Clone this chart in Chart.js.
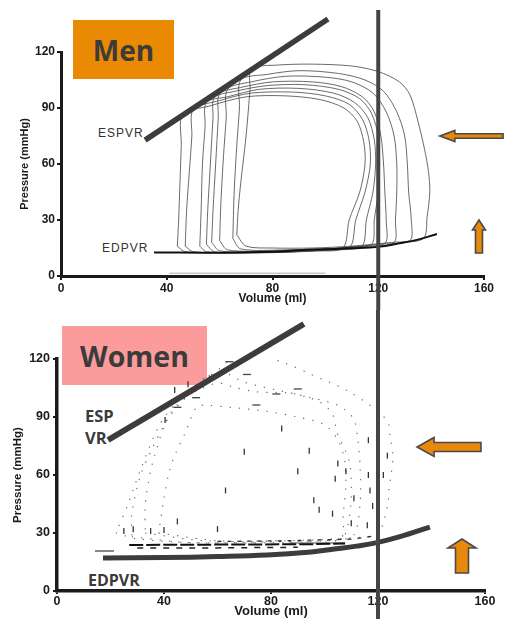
<!DOCTYPE html>
<html><head><meta charset="utf-8">
<script src="https://cdn.jsdelivr.net/npm/chart.js@4.4.1/dist/chart.umd.min.js"></script>
<style>
html,body{margin:0;padding:0;background:#fff;}
#wrap{position:relative;width:506px;height:619px;overflow:hidden;background:#fff;}
.cv{position:absolute;left:0;z-index:2;display:block;}
.lbl{position:absolute;white-space:nowrap;line-height:1;z-index:1;}
.box{position:absolute;z-index:1;display:flex;align-items:center;justify-content:center;font-family:'Open Sans',sans-serif;font-weight:700;color:#3b3b3b;}
</style></head><body>
<div id="wrap">
  <div class="box" style="left:73px;top:20px;width:101px;height:59px;background:#E98A02;font-size:28px;">Men</div>
  <div class="box" style="left:62px;top:326px;width:145px;height:59px;background:#FC9B9B;font-size:28.5px;">Women</div>
  <div class="lbl" style="left:98px;top:127px;font-family:'Liberation Sans',Arial,sans-serif;font-size:12px;letter-spacing:1px;color:#333;">ESPVR</div>
  <div class="lbl" style="left:102px;top:242px;font-family:'Liberation Sans',Arial,sans-serif;font-size:12px;letter-spacing:1px;color:#333;">EDPVR</div>
  <div class="lbl" style="left:85px;top:408px;font-family:'Open Sans',sans-serif;font-weight:700;font-size:16.5px;color:#3b3b3b;">ESP</div>
  <div class="lbl" style="left:85px;top:430px;font-family:'Open Sans',sans-serif;font-weight:700;font-size:16.5px;color:#3b3b3b;">VR</div>
  <div class="lbl" style="left:88px;top:572px;font-family:'Open Sans',sans-serif;font-weight:700;font-size:16px;color:#3b3b3b;">EDPVR</div>
  <canvas id="c1" class="cv" style="top:0" width="506" height="310"></canvas>
  <canvas id="c2" class="cv" style="top:310px" width="506" height="309"></canvas>
</div>
<script>
// ---------- data ----------
const xTicks = [0, 40, 80, 120, 160];
const yTicks = [0, 30, 60, 90, 120];
const refVolume = 120;

// Men: pressure-volume loops [volume ml, pressure mmHg]
const menLoop1 = [[66.5,22],[70,16],[80,15],[95,15],[110,16],[125,18],[137,20],[138.5,32],[139.5,45],[139,56],[137.5,68],[135,83],[132,97],[128,104],[120,109.5],[110,112.5],[95,113.5],[82,113],[72,111],[71.5,100],[70,75],[68,50],[67,35],[66.5,22]];
const menLoop2 = [[65,20],[68,14.5],[85,14],[105,15],[120,17],[132,19],[132.5,30],[131.5,45],[131,60],[130,75],[127,88],[122,99],[115,105],[105,108.5],[90,110],[78,108],[68,105],[67.5,90],[66.5,70],[65.5,45],[65,20]];
const menLoop3 = [[60,19],[63,14],[80,13.5],[100,14.5],[115,16],[126,18],[126.5,30],[127,45],[127,60],[126,75],[123,88],[118,98],[110,104],[100,106.5],[85,107],[72,104],[63,100],[62.5,85],[61.5,65],[60.5,40],[60,19]];
const menLoop4 = [[57,18],[60,13.5],[75,13],[95,14],[110,15.5],[122.5,17.5],[123,30],[122.5,45],[122,60],[121,75],[118.5,88],[114,96],[106,101.5],[95,104],[80,104],[68,101],[60,97.5],[59.5,85],[58.5,60],[57.5,35],[57,18]];
const menLoop5 = [[55,17],[58,13],[75,12.5],[95,13.5],[108,15],[117.5,17],[118.5,30],[120,45],[120.5,60],[120,75],[117.5,87],[113,95],[105,100],[92,102.5],[78,102],[66,99],[58,95.5],[57.5,85],[56.5,60],[55.5,35],[55,17]];
const menLoop6 = [[52.5,16],[55,13],[70,12.5],[90,13],[103,14],[113.8,16],[115.5,30],[118,45],[119,60],[118.5,73],[116,85],[111,93],[103,98],[90,100.5],[75,100],[63,96],[55,93],[54.5,80],[53.5,60],[53,35],[52.5,16]];
const menLoop7 = [[47,16],[50,13],[65,12.5],[85,13],[100,14],[109.3,15.5],[111.5,30],[115,45],[117,60],[116.5,73],[114,84],[109,92],[100,96.5],[88,98.5],[72,98],[60,94],[50,89],[49.5,75],[48.5,55],[47.5,35],[47,16]];
const menLoop8 = [[44,16],[47,13],[60,12.5],[80,12.5],[95,13.5],[106.6,15],[109,30],[113,45],[115,60],[114.5,72],[112,83],[107,90],[98,94.5],[85,96.5],[70,96],[56,91],[46,86.5],[45.5,70],[45,50],[44.5,30],[44,16]];
const menLoops = [menLoop1, menLoop2, menLoop3, menLoop4, menLoop5, menLoop6, menLoop7, menLoop8];
const menESPVR = [[31.8,72.8],[101,137.7]];
const menEDPVR = [[35.2,12.6],[60,12.5],[80,13],[90,13.8],[100,14.3],[110,14.8],[120,15.6],[128,17.5],[135,19.5],[142.2,22.5]];
const menBaseline = [[41,1.5],[100,1.5]];
const menRefLine = [[refVolume,142.5],[refVolume,-19]];

// Women: dotted pressure-volume loops
const womenLoop1 = [[22,30],[30,27],[50,25],[80,25],[100,26],[107,28],[109.5,40],[110,55],[109.5,66],[107.7,73],[105,80.7],[102.8,92],[98.3,97.8],[94.6,99.8],[87,102.4],[74.8,103],[65.8,105.5],[60.2,107.6],[53,104],[45,98],[38,85],[31,62],[26.7,45.5],[22,30]];
const womenLoop2 = [[28,28],[50,25],[80,25.5],[105,26.5],[111,29],[113.3,45],[113.3,64],[112.5,78],[110.7,89.5],[105,96],[95,100],[82,104],[70,108],[62,113],[55,110],[48,100],[41,88],[35,72],[31,59],[28,40],[28,28]];
const womenLoop3 = [[33,30],[55,26],[85,26],[110,27.5],[120,30],[123.7,45],[124,52],[125,61],[125.6,70],[124.5,80],[123.7,87.4],[118,95],[108,104],[95,112],[85,118],[75,122],[68,123],[60,114],[52,104],[44,95],[40,85],[36.5,70],[34.8,61],[33,45],[33,30]];
const womenLoop4 = [[38,30],[60,26],[90,25.5],[106,27],[107,40],[108,55],[107.5,68],[105,78],[100,86],[90,90],[78,93],[65,95],[56,96],[52.3,95.4],[48,82],[44,70],[42,62],[40,48],[38,30]];
const womenLoops = [womenLoop1, womenLoop2, womenLoop3, womenLoop4];
const womenFillLineA = [[27,23.8],[60,24],[94.6,24.2],[107.7,24.6]];
const womenFillLineB = [[30,22.2],[60,22.3],[90,22.6]];
const womenFillLineC = [[60,25.6],[85,26],[110,26.8],[119,28.5]];
const womenGrayA = [[14.2,20.7],[21.3,20.7]];
const womenGrayB = [[87,24.8],[107.7,24.8]];
const womenVMarks = [[94.3,72.5],[116.4,78],[40.4,88.5],[116.4,60],[108,62],[111,48],[104,58],[117,52],[118,44],[103,40],[110,35],[116,34],[25,31],[28.5,32],[35,31],[40,31.5],[45,36],[98,42],[60,32],[63,52],[70,72],[44,104],[49,107],[57,110],[105,66],[122,60],[123.5,70],[90,62],[96,47],[84,84]];
const womenHMarks = [[74.5,96.2],[64.5,118.6],[82,101.9],[71,112],[90,104.5],[52,100],[45,95]];
const womenESPVR = [[19.1,78.1],[92.3,138.1]];
const womenEDPVR = [[17.2,17.1],[40,17.3],[60,17.8],[78.5,18.6],[95,20.2],[103,21.6],[112,23.2],[119.6,25],[128.2,28.1],[139.4,33.1]];
const womenRefLine = [[refVolume,146],[refVolume,-15]];

// ---------- helpers ----------
const pts = a => a.map(p => ({x: p[0], y: p[1]}));
function lineDs(arr, o) {
  return Object.assign({data: pts(arr), showLine: true, pointRadius: 0, borderColor: '#333',
    borderWidth: 1, tension: 0, fill: false}, o);
}

const arrowPlugin = {
  id: 'arrows',
  afterDatasetsDraw(chart, args, opts) {
    const ctx = chart.ctx, xs = chart.scales.x, ys = chart.scales.y;
    (opts.list || []).forEach(a => {
      const tx = xs.getPixelForValue(a.tip[0]), ty = ys.getPixelForValue(a.tip[1]);
      const ex = xs.getPixelForValue(a.tail[0]), ey = ys.getPixelForValue(a.tail[1]);
      const dx = ex - tx, dy = ey - ty, len = Math.hypot(dx, dy);
      const ux = dx / len, uy = dy / len, nx = -uy, ny = ux;
      const hl = a.head, hw = a.headW / 2, sw = a.shaftW / 2;
      const bx = tx + ux * hl, by = ty + uy * hl;
      ctx.save();
      ctx.beginPath();
      ctx.moveTo(tx, ty);
      ctx.lineTo(bx + nx * hw, by + ny * hw);
      ctx.lineTo(bx + nx * sw, by + ny * sw);
      ctx.lineTo(ex + nx * sw, ey + ny * sw);
      ctx.lineTo(ex - nx * sw, ey - ny * sw);
      ctx.lineTo(bx - nx * sw, by - ny * sw);
      ctx.lineTo(bx - nx * hw, by - ny * hw);
      ctx.closePath();
      ctx.fillStyle = '#E8890C';
      ctx.fill();
      ctx.lineWidth = 1.6;
      ctx.strokeStyle = '#4a4a4a';
      ctx.lineJoin = 'miter';
      ctx.stroke();
      ctx.restore();
    });
  }
};

function makeOptions(p) {
  const axisColor = '#1a1a1a';
  return {
    responsive: false, animation: false, devicePixelRatio: 1, events: [],
    layout: {padding: {top: p.top, right: p.right, left: 0, bottom: 0}},
    plugins: {legend: {display: false}, tooltip: {enabled: false}, arrows: {list: p.arrows}},
    scales: {
      x: {
        type: 'linear', min: 0, max: 160,
        afterFit: s => { s.height = p.xh; },
        afterBuildTicks: s => { s.ticks = xTicks.map(v => ({value: v})); },
        border: {display: true, color: axisColor, width: p.bw},
        grid: {display: true, drawOnChartArea: false, drawTicks: true, tickLength: p.tl, color: axisColor, lineWidth: 2},
        ticks: {color: axisColor, font: {family: "'Liberation Sans', Arial, sans-serif", weight: 'bold', size: p.tickSize},
          padding: p.xtp, maxRotation: 0, autoSkip: false},
        title: {display: true, text: 'Volume (ml)', color: axisColor,
          font: {family: "'Liberation Sans', Arial, sans-serif", weight: 'bold', size: p.xTitleSize},
          padding: {top: 0, bottom: p.xtpb}}
      },
      y: {
        type: 'linear', min: 0, max: 120,
        afterFit: s => { s.width = p.yw; },
        afterBuildTicks: s => { s.ticks = yTicks.map(v => ({value: v})); },
        border: {display: true, color: axisColor, width: p.bw},
        grid: {display: true, drawOnChartArea: false, drawTicks: true, tickLength: 4, color: axisColor, lineWidth: 2},
        ticks: {color: axisColor, font: {family: "'Liberation Sans', Arial, sans-serif", weight: 'bold', size: p.tickSize},
          padding: p.ytp, autoSkip: false},
        title: {display: true, text: 'Pressure (mmHg)', color: axisColor,
          font: {family: "'Liberation Sans', Arial, sans-serif", weight: 'bold', size: p.yTitleSize},
          padding: {top: p.ytpt, bottom: 0}}
      }
    }
  };
}

// ---------- Men chart ----------
const menDatasets = [
  lineDs(menRefLine, {borderColor: '#444', borderWidth: 4, clip: false}),
  lineDs(menESPVR, {borderColor: '#3c3c3c', borderWidth: 5.5, clip: false}),
  lineDs(menEDPVR, {borderColor: '#111', borderWidth: 2, tension: 0.4})
].concat(menLoops.map(l => lineDs(l, {borderColor: 'rgba(70,70,70,0.8)', borderWidth: 1, tension: 0.3})))
 .concat([lineDs(menBaseline, {borderColor: '#aaa', borderWidth: 1})]);

new Chart(document.getElementById('c1'), {
  type: 'scatter',
  data: {datasets: menDatasets},
  options: makeOptions({top: 52, right: 22, yw: 61, xh: 34, bw: 3, tl: 4, xtp: 1, ytp: 2,
    tickSize: 12, xTitleSize: 12, yTitleSize: 11, xtpb: 4, ytpt: 18,
    arrows: [
      {tip: [143.3, 75], tail: [167.2, 75], head: 15, headW: 11, shaftW: 4.5},
      {tip: [158.1, 30], tail: [158.1, 12.3], head: 10, headW: 13, shaftW: 7}
    ]}),
  plugins: [arrowPlugin]
});

// ---------- Women chart ----------
const womenDatasets = [
  lineDs(womenRefLine, {borderColor: '#444', borderWidth: 4, clip: false}),
  lineDs(womenESPVR, {borderColor: '#3c3c3c', borderWidth: 6, clip: false}),
  lineDs(womenEDPVR, {borderColor: '#3c3c3c', borderWidth: 5, tension: 0.4, clip: false}),
  lineDs(womenFillLineA, {borderColor: '#111', borderWidth: 2, borderDash: [14, 3]}),
  lineDs(womenFillLineB, {borderColor: '#222', borderWidth: 1.5, borderDash: [6, 7]}),
  lineDs(womenFillLineC, {borderColor: '#333', borderWidth: 1.3, borderDash: [4, 6]}),
  lineDs(womenGrayA, {borderColor: '#888', borderWidth: 2}),
  lineDs(womenGrayB, {borderColor: '#888', borderWidth: 1.5}),
  {data: pts(womenVMarks), showLine: false, pointStyle: 'line', rotation: 90, pointRadius: 3,
    borderColor: '#333', borderWidth: 1.3},
  {data: pts(womenHMarks), showLine: false, pointStyle: 'line', rotation: 0, pointRadius: 4,
    borderColor: '#444', borderWidth: 1.3}
].concat(womenLoops.map(l => lineDs(l, {borderColor: '#666', borderWidth: 1.1, borderDash: [1.3, 8], tension: 0.3})));

new Chart(document.getElementById('c2'), {
  type: 'scatter',
  data: {datasets: womenDatasets},
  options: makeOptions({top: 49, right: 21, yw: 57, xh: 28, bw: 3.5, tl: 3, xtp: 0, ytp: 3,
    tickSize: 12.5, xTitleSize: 13, yTitleSize: 11.5, xtpb: 0, ytpt: 11,
    arrows: [
      {tip: [134.6, 74.5], tail: [158.5, 74.5], head: 17, headW: 19, shaftW: 9},
      {tip: [151.4, 26.9], tail: [151.4, 9.3], head: 9, headW: 28, shaftW: 13}
    ]}),
  plugins: [arrowPlugin]
});
</script>
</body></html>
